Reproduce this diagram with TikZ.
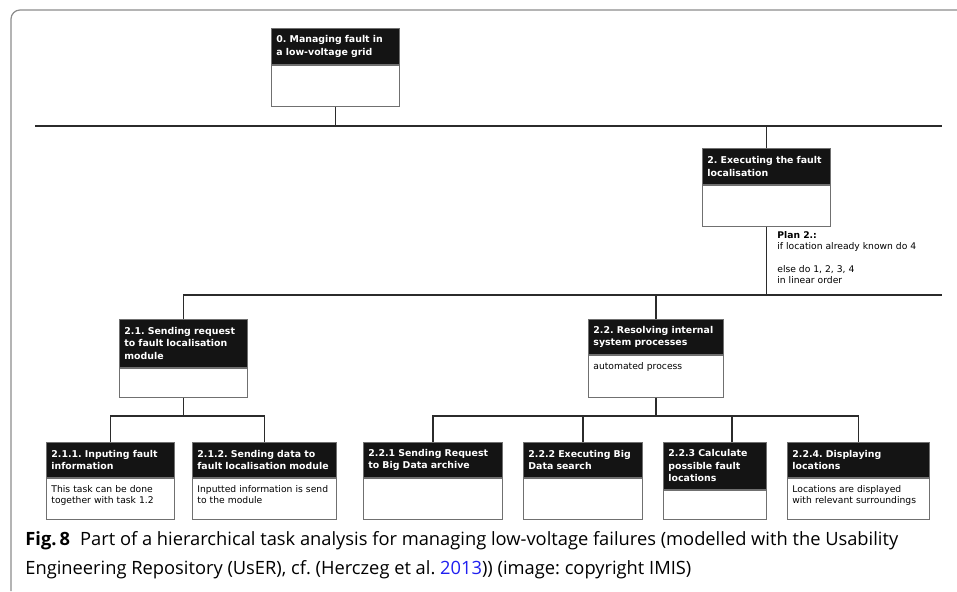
\documentclass[tikz,border=0pt]{standalone}
\usepackage{fontspec}
\setmainfont{DejaVu Sans}
\newfontfamily\capfont{Open Sans}
\usetikzlibrary{positioning}
\frenchspacing
\definecolor{hdfill}{HTML}{141414}
\definecolor{boxgray}{HTML}{707070}
\definecolor{linegray}{HTML}{2B2B2B}
\definecolor{framegray}{HTML}{8C8C8C}
\definecolor{linkblue}{HTML}{2020F0}
\tikzset{hd/.style={anchor=north west,fill=hdfill,draw=boxgray,text=white,align=left,font=\bfseries\fontsize{9.4}{12.5}\selectfont,inner xsep=5pt,inner ysep=0pt},
 bd/.style={draw=boxgray,fill=white,align=left,font=\fontsize{9.2}{11.3}\selectfont,inner xsep=5pt,inner ysep=0pt,text height=14pt},
 ln/.style={draw=linegray,line width=1.8pt},
 fr/.style={draw=framegray,line width=1.2pt,rounded corners=9pt},
 pl/.style={anchor=north west,align=left,inner sep=0pt,font=\fontsize{9.2}{11.3}\selectfont},
 cp/.style={anchor=base west,inner sep=0pt,font=\capfont\fontsize{18.3}{20}\selectfont}}

\begin{document}
\begin{tikzpicture}[x=1pt,y=-1pt,line width=0.8pt]
\useasboundingbox (0,0) rectangle (957,591);
\draw[fr] (11,591) -- (11,10) -- (957,10);
% top task
\node[hd,text width=118pt,minimum height=36pt](t0) at (271,28){0. Managing fault in\\a low-voltage grid};
\node[bd,text width=118pt,text depth=27pt,below=0pt of t0](t0b){};
\node[hd,text width=118pt,minimum height=36pt](t2) at (702,148){2. Executing the fault\\localisation};
\node[bd,text width=118pt,text depth=27pt,below=0pt of t2](t2b){};
\node[pl](plan) at (777,231){\textbf{Plan 2.:}\\if location already known do 4\\[11.3pt]else do 1, 2, 3, 4\\in linear order};
% second level
\node[hd,text width=118pt,minimum height=48pt](t21) at (119,319){2.1. Sending request\\to fault localisation\\module};
\node[bd,text width=118pt,text depth=15pt,below=0pt of t21](t21b){};
\node[hd,text width=125pt,minimum height=35pt](t22) at (588,319){2.2. Resolving internal\\system processes};
\node[bd,text width=125pt,text depth=28pt,below=0pt of t22](t22b){automated process};
% leaves
\node[hd,text width=118pt,minimum height=35pt](t211) at (46,442){2.1.1. Inputing fault\\information};
\node[bd,text width=118pt,text depth=27pt,below=0pt of t211](t211b){This task can be done\\together with task 1.2};
\node[hd,text width=134pt,minimum height=35pt](t212) at (192,442){2.1.2. Sending data to\\fault localisation module};
\node[bd,text width=134pt,text depth=27pt,below=0pt of t212](t212b){Inputted information is send\\to the module};
\node[hd,text width=129pt,minimum height=35pt](t221) at (363,442){2.2.1 Sending Request\\to Big Data archive};
\node[bd,text width=129pt,text depth=27pt,below=0pt of t221](t221b){};
\node[hd,text width=109pt,minimum height=35pt](t222) at (523,442){2.2.2 Executing Big\\Data search};
\node[bd,text width=109pt,text depth=27pt,below=0pt of t222](t222b){};
\node[hd,text width=93pt,minimum height=47pt](t223) at (663,442){2.2.3 Calculate\\possible fault\\locations};
\node[bd,text width=93pt,text depth=15pt,below=0pt of t223](t223b){};
\node[hd,text width=132pt,minimum height=35pt](t224) at (787,442){2.2.4. Displaying\\locations};
\node[bd,text width=132pt,text depth=27pt,below=0pt of t224](t224b){Locations are displayed\\with relevant surroundings};
% connectors
\coordinate (b0l) at (35,126);\coordinate (b0r) at (942,126);
\coordinate (b1r) at (942,295);\coordinate (b2) at (0,416);
\coordinate (b2r) at (t224.north |- b2);
\draw[ln](b0l)--(b0r);\draw[ln](t0b.south)--(t0b.south |- b0l);\draw[ln](t2.north)--(t2.north |- b0l);
\draw[ln](t21.north)|-(b1r);\draw[ln](t2b.south)--(t2b.south |- b1r);\draw[ln](t22.north)--(t22.north |- b1r);
\draw[ln](t211.north)|-(t21b.south |- b2)-|(t212.north);\draw[ln](t21b.south)--(t21b.south |- b2);
\draw[ln](t221.north)|-(b2r)--(t224.north);\draw[ln](t22b.south)--(t22b.south |- b2);
\draw[ln](t222.north)--(t222.north |- b2);\draw[ln]([xshift=17pt]t223.north)--([xshift=17pt]t223.north |- b2);
% caption
\node[cp](cap1) at (25,545){\textbf{Fig.\,8}\hspace{0.55em}Part of a hierarchical task analysis for managing low-voltage failures (modelled with the Usability};
\node[cp](cap2) at (25,574){Engineering Repository (UsER), cf. (Herczeg et al. \textcolor{linkblue}{2013})) (image: copyright IMIS)};
\end{tikzpicture}
\end{document}
